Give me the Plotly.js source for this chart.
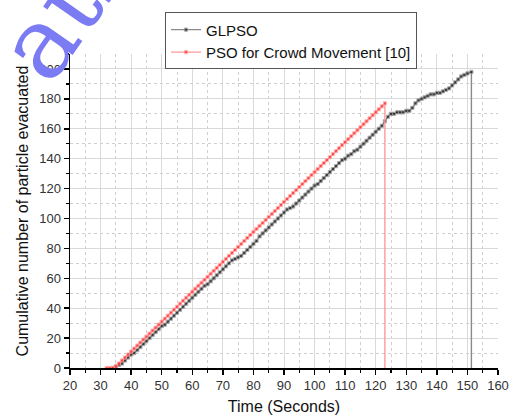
<!DOCTYPE html>
<html>
<head>
<meta charset="utf-8">
<script src="https://cdn.plot.ly/plotly-3.0.1.min.js"></script>
<style>
  html, body { margin: 0; padding: 0; background: #fff; }
  #chart { width: 514px; height: 419px; }
</style>
</head>
<body>
<div id="chart"></div>
<script>
// Evacuation time (s) and cumulative evacuated particles, GLPSO run
const glpsoTime = [
  34, 35, 36, 37, 38, 39, 40, 41, 42, 43, 44, 45, 46, 47, 48, 49, 50,
  51, 52, 53, 54, 55, 56, 57, 58, 59, 60, 61, 62, 63, 64, 65, 66, 67,
  68, 69, 70, 71, 72, 73, 74, 75, 76, 77, 78, 79, 80, 81, 82, 83, 84,
  85, 86, 87, 88, 89, 90, 91, 92, 93, 94, 95, 96, 97, 98, 99, 100, 101,
  102, 103, 104, 105, 106, 107, 108, 109, 110, 111, 112, 113, 114, 115,
  116, 117, 118, 119, 120, 121, 122, 123, 124, 125, 126, 127, 128, 129,
  130, 131, 132, 133, 134, 135, 136, 137, 138, 139, 140, 141, 142, 143,
  144, 145, 146, 147, 148, 149, 150, 151.3, 151.3
];
const glpsoCount = [
  0, 1, 2, 3, 5, 7, 9, 10, 12, 14, 16, 18, 20, 22, 24, 26, 28,
  29, 31, 33, 35, 37, 39, 41, 43, 45, 47, 49, 51, 53, 55, 56, 58, 60,
  62, 64, 66, 68, 70, 72, 73, 74, 75, 77, 79, 81, 83, 85, 88, 90, 92,
  94, 96, 98, 100, 102, 104, 106, 107, 108, 110, 112, 114, 116, 118, 120, 122, 123,
  125, 127, 129, 131, 133, 135, 137, 139, 140, 142, 143, 145, 146, 148,
  150, 152, 154, 156, 158, 160, 162, 165, 168, 170, 170, 171, 171, 171,
  172, 172, 174, 177, 179, 180, 181, 182, 183, 183, 184, 184, 185, 186,
  187, 189, 191, 193, 195, 196, 197, 198, 0
];

// PSO for Crowd Movement [10]
const psoTime = [
  32, 33, 34, 35, 36, 37, 38, 39, 40, 41, 42, 43, 44, 45, 46, 47, 48,
  49, 50, 51, 52, 53, 54, 55, 56, 57, 58, 59, 60, 61, 62, 63, 64, 65,
  66, 67, 68, 69, 70, 71, 72, 73, 74, 75, 76, 77, 78, 79, 80, 81, 82,
  83, 84, 85, 86, 87, 88, 89, 90, 91, 92, 93, 94, 95, 96, 97, 98, 99,
  100, 101, 102, 103, 104, 105, 106, 107, 108, 109, 110, 111, 112, 113,
  114, 115, 116, 117, 118, 119, 120, 121, 122, 123, 123
];
const psoCount = [
  0, 0, 0, 1, 3, 5, 7, 9, 11, 13, 15, 17, 19, 21, 23, 25, 27,
  29, 31, 33, 35, 37, 39, 41, 43, 45, 47, 49, 51, 53, 55, 57, 59, 61,
  63, 65, 67, 69, 71, 73, 75, 77, 79, 81, 83, 85, 87, 89, 91, 93, 95,
  97, 99, 101, 103, 105, 107, 109, 111, 113, 115, 117, 119, 121, 123, 125, 127, 129,
  131, 133, 135, 137, 139, 141, 143, 145, 147, 149, 151, 153, 155, 157,
  159, 161, 163, 165, 167, 169, 171, 173, 175, 177, 0
];

const seriesNames = ['GLPSO', 'PSO for Crowd Movement [10]'];
const xTickVals = [20, 30, 40, 50, 60, 70, 80, 90, 100, 110, 120, 130, 140, 150, 160];
const yTickVals = [0, 20, 40, 60, 80, 100, 120, 140, 160, 180, 200];

// no marker on the closing drop-to-zero point
const markerSizes = n => Array.from({length: n}, (_, i) => (i === n - 1 ? 0 : 3.2));

const traces = [
  {
    x: glpsoTime, y: glpsoCount, name: seriesNames[0],
    type: 'scatter', mode: 'lines+markers',
    line: {color: '#8a8a8a', width: 1.4},
    marker: {color: '#111111', size: markerSizes(glpsoTime.length), symbol: 'square'}
  },
  {
    x: psoTime, y: psoCount, name: seriesNames[1],
    type: 'scatter', mode: 'lines+markers',
    line: {color: '#ff9a9a', width: 1.4},
    marker: {color: '#ff1a1a', size: markerSizes(psoTime.length), symbol: 'square'}
  }
];

const sans = 'Arial, "Liberation Sans", sans-serif';
const tickFont = {family: sans, size: 13, color: '#333'};
const titleFont = {family: sans, size: 16, color: '#111'};

const layout = {
  width: 514, height: 419,
  margin: {l: 70, r: 16, t: 51, b: 51},
  paper_bgcolor: '#fff', plot_bgcolor: '#fff',
  showlegend: true,
  legend: {
    x: 0.222, y: 1.1325, xanchor: 'left', yanchor: 'top',
    bgcolor: '#fff', bordercolor: '#555', borderwidth: 1,
    font: {family: sans, size: 15, color: '#111'},
    tracegroupgap: 0, itemwidth: 30
  },
  xaxis: {
    range: [20, 160], tickvals: xTickVals, ticktext: xTickVals.map(String),
    showline: true, linecolor: '#000', linewidth: 1.5,
    ticks: 'outside', ticklen: 5, tickwidth: 1.5, tickcolor: '#000',
    showgrid: true, gridcolor: '#d9d9d9', gridwidth: 1, zeroline: false,
    tickfont: tickFont,
    minor: {dtick: 5, tick0: 20, ticks: 'outside', ticklen: 3, tickwidth: 1.2, tickcolor: '#000',
            showgrid: true, gridcolor: '#cfcfcf', griddash: 'dot', gridwidth: 1},
    title: {text: 'Time (Seconds)', font: titleFont, standoff: 8}
  },
  yaxis: {
    range: [0, 210], tickvals: yTickVals, ticktext: yTickVals.map(String),
    showline: true, linecolor: '#000', linewidth: 1.5,
    ticks: 'outside', ticklen: 5, tickwidth: 1.5, tickcolor: '#000',
    showgrid: true, gridcolor: '#d9d9d9', gridwidth: 1, zeroline: false,
    tickfont: tickFont,
    minor: {dtick: 10, tick0: 0, ticks: 'outside', ticklen: 3, tickwidth: 1.2, tickcolor: '#000',
            showgrid: true, gridcolor: '#cfcfcf', griddash: 'dot', gridwidth: 1},
    title: {text: 'Cumulative number of particle evacuated', font: titleFont, standoff: 6}
  },
  annotations: [
    {
      text: 'ati', xref: 'paper', yref: 'paper', x: -0.025, y: 1.13,
      xanchor: 'center', yanchor: 'middle', showarrow: false, textangle: -55,
      font: {family: '"DejaVu Serif", "Liberation Serif", serif', size: 100, color: '#7b7bf3'}
    }
  ]
};

Plotly.newPlot('chart', traces, layout, {displayModeBar: false, staticPlot: true});
</script>
</body>
</html>
